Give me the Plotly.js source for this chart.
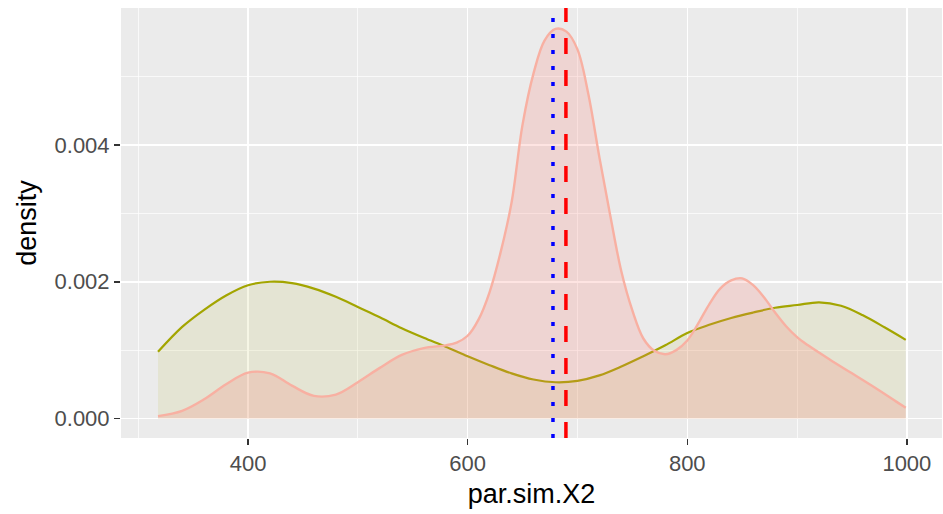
<!DOCTYPE html>
<html>
<head>
<meta charset="utf-8">
<script src="https://cdn.plot.ly/plotly-3.0.1.min.js"></script>
<style>html,body{margin:0;padding:0;background:#fff;}#chart{width:943px;height:514px;}</style>
</head>
<body>
<div id="chart"></div>
<script>
// Density curve for group A (olive)
const oliveX = [318, 340, 360, 380, 400, 420, 440, 460, 480, 500, 520, 540, 560, 580, 600, 620, 640, 660, 680, 700, 720, 740, 760, 780, 800, 820, 840, 860, 880, 900, 920, 940, 960, 980, 999];
const oliveY = [0.000975, 0.00134, 0.00159, 0.0018, 0.00195, 0.002, 0.00198, 0.0019, 0.00178, 0.00163, 0.00148, 0.00132, 0.00118, 0.00105, 0.00091, 0.00078, 0.00066, 0.00057, 0.00053, 0.00055, 0.00063, 0.00076, 0.00091, 0.00107, 0.00125, 0.00137, 0.00147, 0.00155, 0.00162, 0.00166, 0.0017, 0.00165, 0.00151, 0.00133, 0.00115];
// Density curve for group B (salmon)
const pinkX = [318, 340, 360, 380, 400, 420, 440, 460, 480, 500, 520, 540, 560, 580, 590, 600, 610, 620, 630, 640, 650, 660, 670, 680, 690, 700, 710, 720, 730, 740, 750, 760, 770, 780, 790, 800, 810, 820, 830, 840, 850, 860, 870, 880, 890, 900, 910, 930, 950, 970, 990, 999];
const pinkY = [0.000034, 0.000112, 0.00028, 0.0005, 0.00067, 0.00066, 0.00048, 0.00033, 0.00035, 0.00053, 0.00074, 0.00093, 0.00103, 0.00107, 0.00111, 0.00121, 0.00145, 0.00185, 0.00243, 0.00316, 0.0043, 0.00505, 0.00553, 0.0057, 0.00566, 0.0054, 0.00474, 0.00382, 0.00296, 0.00215, 0.00158, 0.00117, 0.00099, 0.00094, 0.001, 0.00114, 0.00139, 0.00167, 0.0019, 0.00202, 0.00205, 0.00195, 0.00177, 0.00155, 0.00135, 0.00119, 0.00107, 0.00086, 0.00066, 0.00046, 0.00025, 0.000156];
// Reference lines
const redLineX = 689.5;
const blueLineX = 677.7;
const yTickVals = [0, 0.002, 0.004];
const yTickText = ['0.000', '0.002', '0.004'];
const xTickVals = [400, 600, 800, 1000];
const yRange = [-0.000286, 0.006006];

const traces = [
  {x: oliveX, y: oliveY, type: 'scatter', mode: 'lines', line: {color: '#A3A500', width: 2.2, shape: 'spline', smoothing: 1}, fill: 'tozeroy', fillcolor: 'rgba(163,165,0,0.1)', hoverinfo: 'skip'},
  {x: pinkX, y: pinkY, type: 'scatter', mode: 'lines', line: {color: '#F8B0A2', width: 2.4, shape: 'spline', smoothing: 1}, fill: 'tozeroy', fillcolor: 'rgba(248,118,109,0.2)', hoverinfo: 'skip'},
  {x: [blueLineX, blueLineX], y: yRange, type: 'scatter', mode: 'lines', line: {color: '#0000FF', width: 3.5, dash: '4px,12px'}, hoverinfo: 'skip'},
  {x: [redLineX, redLineX], y: yRange, type: 'scatter', mode: 'lines', line: {color: '#FF0000', width: 3.5, dash: '16px,16px'}, hoverinfo: 'skip'}
];

const layout = {
  width: 943, height: 514,
  margin: {l: 121, r: 1, t: 8, b: 76},
  paper_bgcolor: '#FFFFFF',
  plot_bgcolor: '#EBEBEB',
  showlegend: false,
  font: {family: 'Liberation Sans, Arial, sans-serif'},
  xaxis: {
    range: [284.3, 1032], tickvals: xTickVals, ticktext: xTickVals.map(String),
    showgrid: true, gridcolor: '#FFFFFF', gridwidth: 1.5, zeroline: false, showline: false,
    ticks: 'outside', ticklen: 6, tickwidth: 1.5, tickcolor: '#333333',
    tickfont: {size: 22, color: '#4D4D4D'},
    minor: {tickvals: [300, 500, 700, 900], showgrid: true, gridcolor: '#FFFFFF', gridwidth: 0.7, ticks: ''},
    title: {text: 'par.sim.X2', font: {size: 27, color: '#000000'}, standoff: 8}
  },
  yaxis: {
    range: yRange, tickvals: yTickVals, ticktext: yTickText,
    showgrid: true, gridcolor: '#FFFFFF', gridwidth: 1.5, zeroline: false, showline: false,
    ticks: 'outside', ticklen: 6, tickwidth: 1.5, tickcolor: '#333333',
    tickfont: {size: 22, color: '#4D4D4D'},
    minor: {tickvals: [0.001, 0.003, 0.005], showgrid: true, gridcolor: '#FFFFFF', gridwidth: 0.7, ticks: ''},
    title: {text: 'density', font: {size: 27, color: '#000000'}, standoff: 10}
  }
};

Plotly.newPlot('chart', traces, layout, {displayModeBar: false, staticPlot: true});
</script>
</body>
</html>
